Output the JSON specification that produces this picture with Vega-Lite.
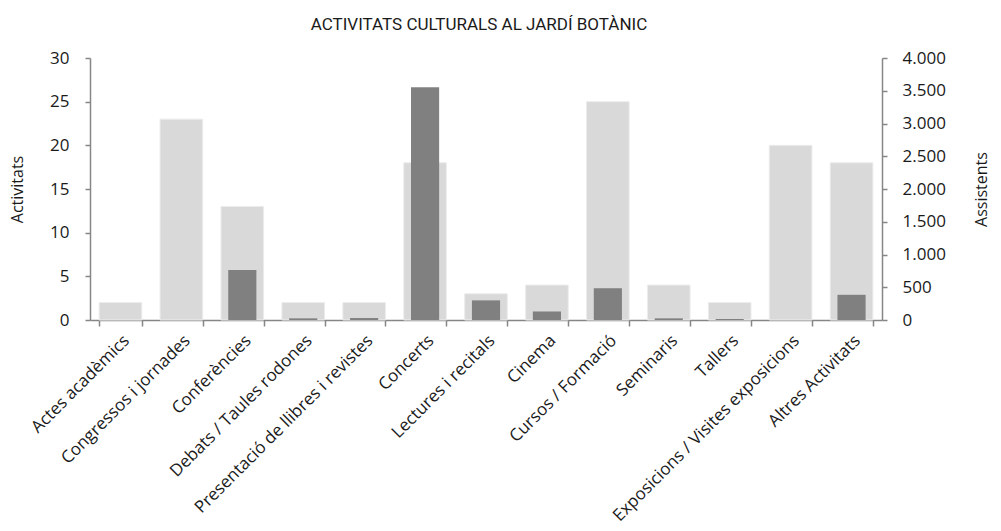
{
  "$schema": "https://vega.github.io/schema/vega-lite/v6.json",
  "width": 792,
  "height": 262,
  "autosize": {"type": "none"},
  "padding": {"left": 90, "top": 58, "right": 119, "bottom": 211},
  "background": "white",
  "title": {
    "text": "ACTIVITATS CULTURALS AL JARDÍ BOTÀNIC",
    "font": "Roboto",
    "fontSize": 17,
    "fontWeight": "normal",
    "color": "#1a1a1a",
    "anchor": "middle",
    "offset": 15,
    "dx": -7
  },
  "config": {
    "view": {"stroke": null},
    "font": "Open Sans",
    "axis": {
      "labelFont": "Open Sans",
      "titleFont": "Open Sans",
      "labelFontSize": 17,
      "titleFontSize": 16,
      "titleFontWeight": "normal",
      "labelColor": "#1a1a1a",
      "titleColor": "#1a1a1a",
      "domainColor": "#868686",
      "tickColor": "#868686",
      "domainWidth": 1.5,
      "tickWidth": 1.5,
      "grid": false
    }
  },
  "data": {
    "values": [
      {"cat": "Actes acadèmics", "activitats": 2, "assistents": 0},
      {"cat": "Congressos i jornades", "activitats": 23, "assistents": 0},
      {"cat": "Conferències", "activitats": 13, "assistents": 765},
      {"cat": "Debats / Taules  rodones", "activitats": 2, "assistents": 25},
      {"cat": "Presentació de llibres i revistes", "activitats": 2, "assistents": 30},
      {"cat": "Concerts", "activitats": 18, "assistents": 3555},
      {"cat": "Lectures i recitals", "activitats": 3, "assistents": 300},
      {"cat": "Cinema", "activitats": 4, "assistents": 130},
      {"cat": "Cursos / Formació", "activitats": 25, "assistents": 485},
      {"cat": "Seminaris", "activitats": 4, "assistents": 25},
      {"cat": "Tallers", "activitats": 2, "assistents": 15},
      {"cat": "Exposicions / Visites exposicions", "activitats": 20, "assistents": 0},
      {"cat": "Altres Activitats", "activitats": 18, "assistents": 385}
    ]
  },
  "encoding": {
    "x": {
      "field": "cat",
      "type": "nominal",
      "sort": null,
      "scale": {"paddingInner": 0.3, "paddingOuter": 0.15},
      "axis": {
        "title": null,
        "labelAngle": -45,
        "labelAlign": "right",
        "labelBaseline": "top",
        "labelPadding": 6,
        "tickBand": "extent",
        "tickSize": 6,
        "labelLimit": 400
      }
    }
  },
  "layer": [
    {
      "mark": {"type": "bar", "color": "#d9d9d9", "stroke": "#ececec", "strokeWidth": 1},
      "encoding": {
        "y": {
          "field": "activitats",
          "type": "quantitative",
          "scale": {"domain": [0, 30], "nice": false},
          "axis": {
            "title": "Activitats",
            "values": [0, 5, 10, 15, 20, 25, 30],
            "tickSize": 5,
            "labelPadding": 16,
            "titlePadding": 24
          }
        }
      }
    },
    {
      "mark": {"type": "bar", "color": "#808080", "width": {"band": 0.66}},
      "encoding": {
        "y": {
          "field": "assistents",
          "type": "quantitative",
          "scale": {"domain": [0, 4000], "nice": false},
          "axis": {
            "title": "Assistents",
            "orient": "right",
            "values": [0, 500, 1000, 1500, 2000, 2500, 3000, 3500, 4000],
            "labelExpr": "replace(format(datum.value, ',d'), ',', '.')",
            "tickSize": 5,
            "labelPadding": 15,
            "titlePadding": 44,
            "titleAngle": 270
          }
        }
      }
    }
  ],
  "resolve": {"scale": {"y": "independent"}}
}
